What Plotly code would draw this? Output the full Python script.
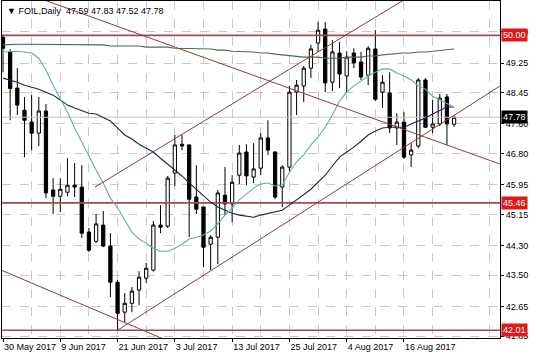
import datetime as dt
import plotly.graph_objects as go

# ---------------- data ----------------
dates = ["2017-05-30", "2017-05-31", "2017-06-01", "2017-06-02", "2017-06-05", "2017-06-06",
         "2017-06-07", "2017-06-08", "2017-06-09", "2017-06-12", "2017-06-13", "2017-06-14",
         "2017-06-15", "2017-06-16", "2017-06-19", "2017-06-20", "2017-06-21", "2017-06-22",
         "2017-06-23", "2017-06-26", "2017-06-27", "2017-06-28", "2017-06-29", "2017-06-30",
         "2017-07-03", "2017-07-04", "2017-07-05", "2017-07-06", "2017-07-07", "2017-07-10",
         "2017-07-11", "2017-07-12", "2017-07-13", "2017-07-14", "2017-07-17", "2017-07-18",
         "2017-07-19", "2017-07-20", "2017-07-21", "2017-07-24", "2017-07-25", "2017-07-26",
         "2017-07-27", "2017-07-28", "2017-07-31", "2017-08-01", "2017-08-02", "2017-08-03",
         "2017-08-04", "2017-08-07", "2017-08-08", "2017-08-09", "2017-08-10", "2017-08-11",
         "2017-08-14", "2017-08-15", "2017-08-16", "2017-08-17", "2017-08-18", "2017-08-21",
         "2017-08-22", "2017-08-23", "2017-08-24", "2017-08-25"]

opens = [49.95, 49.55, 48.57, 47.97, 47.65, 47.35, 47.95, 45.81, 45.64, 45.75, 45.94, 45.89,
         44.67, 44.42, 44.86, 44.29, 43.31, 42.50, 42.74, 43.10, 43.42, 43.64, 44.86, 44.83,
         46.27, 47.05, 47.03, 45.62, 45.35, 44.34, 44.53, 45.67, 45.43, 46.21, 46.84, 46.16,
         46.40, 47.22, 46.84, 45.89, 46.43, 48.46, 48.63, 49.11, 49.79, 50.17, 48.73, 49.52,
         48.90, 49.52, 49.28, 48.92, 49.63, 48.46, 48.44, 47.49, 47.65, 46.76, 47.00, 48.79,
         47.51, 47.60, 48.33, 47.59]
highs = [50.02, 49.62, 49.11, 48.33, 48.38, 48.33, 48.14, 46.13, 46.13, 46.67, 46.54, 46.48,
         44.78, 45.16, 45.24, 44.64, 43.37, 43.02, 43.18, 43.61, 43.83, 44.97, 45.40, 46.19,
         47.30, 47.30, 47.05, 46.48, 45.35, 44.59, 45.81, 46.43, 46.21, 47.03, 47.05, 47.08,
         47.35, 47.70, 46.86, 46.48, 48.63, 48.79, 49.17, 49.74, 50.36, 50.36, 49.87, 49.82,
         49.57, 49.65, 49.55, 49.71, 50.14, 48.92, 49.00, 47.89, 47.92, 47.08, 48.84, 48.84,
         48.25, 48.41, 48.41, 47.83]
lows = [49.00, 47.70, 47.84, 46.70, 46.89, 47.00, 45.59, 45.16, 45.21, 45.64, 45.62, 44.51,
        44.13, 44.37, 44.26, 42.91, 42.01, 42.23, 42.50, 42.69, 43.29, 43.60, 44.64, 44.78,
        45.92, 46.89, 44.53, 45.16, 43.72, 43.64, 43.80, 45.13, 44.94, 45.97, 45.94, 46.00,
        46.21, 46.76, 45.56, 45.35, 46.32, 47.84, 48.19, 48.84, 49.55, 48.46, 48.49, 48.57,
        48.46, 49.11, 48.79, 48.65, 48.22, 48.03, 47.35, 47.03, 46.65, 46.43, 46.94, 47.49,
        47.35, 47.54, 47.03, 47.52]
closes = [49.65, 48.56, 48.11, 47.70, 47.35, 47.95, 45.73, 45.64, 45.83, 45.94, 45.89, 44.64,
          44.18, 44.89, 44.29, 43.31, 42.47, 42.74, 43.07, 43.45, 43.69, 44.86, 44.80, 46.13,
          47.03, 47.00, 45.56, 45.29, 44.26, 44.53, 45.73, 45.43, 46.02, 46.81, 46.19, 46.38,
          47.22, 46.89, 45.62, 46.43, 48.46, 48.65, 49.11, 49.63, 50.14, 48.71, 49.55, 48.95,
          49.41, 49.25, 48.87, 49.65, 48.27, 48.73, 47.49, 47.65, 46.70, 46.89, 48.79, 47.51,
          47.60, 48.30, 47.60, 47.78]

ma_fast = [49.55, 49.57, 49.57, 49.55, 49.52, 49.38, 49.06, 48.65, 48.30, 47.92, 47.49, 47.11,
           46.70, 46.35, 46.00, 45.59, 45.32, 44.99, 44.67, 44.48, 44.37, 44.23, 44.15, 44.15,
           44.23, 44.34, 44.48, 44.53, 44.59, 44.70, 44.89, 45.13, 45.32, 45.54, 45.70, 45.86,
           45.97, 46.00, 45.92, 45.94, 46.29, 46.57, 46.76, 47.03, 47.24, 47.51, 47.84, 48.22,
           48.46, 48.63, 48.76, 48.90, 49.00, 49.09, 49.09, 48.98, 48.90, 48.79, 48.63, 48.54,
           48.35, 48.25, 48.14, 48.06]
ma_mid = [48.84, 48.79, 48.73, 48.65, 48.60, 48.54, 48.46, 48.38, 48.25, 48.11, 48.03, 47.95,
          47.89, 47.87, 47.78, 47.68, 47.49, 47.30, 47.19, 47.05, 46.94, 46.84, 46.67, 46.51,
          46.35, 46.19, 46.00, 45.83, 45.64, 45.48, 45.35, 45.26, 45.18, 45.13, 45.10, 45.07,
          45.13, 45.18, 45.21, 45.26, 45.40, 45.54, 45.67, 45.83, 46.02, 46.21, 46.46, 46.70,
          46.84, 46.97, 47.13, 47.30, 47.41, 47.49, 47.51, 47.51, 47.51, 47.60, 47.68, 47.76,
          47.87, 47.97, 48.06, 48.06]
ma_slow = [49.74, 49.76, 49.76, 49.76, 49.76, 49.76, 49.76, 49.76, 49.76, 49.76, 49.76, 49.74,
           49.74, 49.74, 49.74, 49.71, 49.71, 49.71, 49.71, 49.71, 49.68, 49.68, 49.68, 49.68,
           49.65, 49.65, 49.65, 49.63, 49.63, 49.63, 49.60, 49.60, 49.57, 49.57, 49.55, 49.55,
           49.52, 49.52, 49.49, 49.47, 49.44, 49.44, 49.41, 49.41, 49.41, 49.38, 49.38, 49.38,
           49.41, 49.41, 49.41, 49.44, 49.44, 49.47, 49.49, 49.49, 49.52, 49.52, 49.55, 49.55,
           49.57, 49.57, 49.60, 49.63]

levels = [50.00, 45.46, 42.01]
level_labels = ["50.00", "45.46", "42.01"]

# trend lines: (bar index, price) anchor pairs
trend_a_x = [0.0, 70.0]
trend_a_y = [51.36, 46.47]
trend_b_x = [-1.0, 25.0]
trend_b_y = [43.70, 41.56]
trend_c_x = [16.0, 70.0]
trend_c_y = [42.01, 48.70]
trend_d_x = [12.85, 60.0]
trend_d_y = [45.89, 51.43]

price_ticks = [41.85, 42.65, 43.50, 44.30, 45.15, 45.95, 46.80, 47.60, 48.45, 49.25, 50.10]
bid_price = 47.78
title_text = "\u25BC FOIL,Daily  47.59 47.83 47.52 47.78"

# ---------------- figure ----------------
idx = list(range(len(dates)))
FONT = "Liberation Sans, Arial, sans-serif"
TREND = "#8e3b3b"
LEVEL = "#a9484c"

fig = go.Figure()

# bid line
fig.add_trace(go.Scatter(x=[-1, 71], y=[bid_price, bid_price], mode="lines",
                         line=dict(color="#c4c4c4", width=1), hoverinfo="skip"))

# horizontal levels
for lv in levels:
    fig.add_trace(go.Scatter(x=[-1, 71], y=[lv, lv], mode="lines",
                             line=dict(color=LEVEL, width=1.6), hoverinfo="skip"))

fig.add_trace(go.Candlestick(
    x=idx, open=opens, high=highs, low=lows, close=closes,
    increasing=dict(fillcolor="#ffffff", line=dict(color="#000000", width=1)),
    decreasing=dict(fillcolor="#000000", line=dict(color="#000000", width=1)),
    whiskerwidth=0))

fig.add_trace(go.Scatter(x=idx, y=ma_slow, mode="lines", line=dict(color="#4d6b50", width=1.1)))
fig.add_trace(go.Scatter(x=idx, y=ma_mid, mode="lines", line=dict(color="#1c2258", width=1.1)))
fig.add_trace(go.Scatter(x=idx, y=ma_fast, mode="lines", line=dict(color="#6aaca6", width=1.1)))

for tx, ty in [(trend_a_x, trend_a_y), (trend_b_x, trend_b_y),
               (trend_c_x, trend_c_y), (trend_d_x, trend_d_y)]:
    fig.add_trace(go.Scatter(x=tx, y=ty, mode="lines",
                             line=dict(color=TREND, width=1), hoverinfo="skip"))

major = list(range(0, len(dates), 8))
minor = [i for i in range(4, 72, 8)]


def fmt(d):
    t = dt.date.fromisoformat(d)
    return f"{t.day} {t.strftime('%b %Y')}"


fig.update_layout(
    width=536, height=357,
    margin=dict(l=2, r=36, t=1, b=19),
    paper_bgcolor="white", plot_bgcolor="white",
    showlegend=False,
    boxgap=0.35,
    font=dict(family=FONT, size=9, color="#000000"),
    xaxis=dict(
        range=[-0.14, 69.41], rangeslider=dict(visible=False),
        tickmode="array", tickvals=major, ticktext=[fmt(dates[i]) for i in major],
        ticklabelposition="outside right", tickangle=0, automargin=False,
        ticks="outside", ticklen=3, tickcolor="#000000",
        showgrid=True, gridcolor="#c8c8c8", griddash="dash", gridwidth=1,
        minor=dict(tickvals=minor, showgrid=True, gridcolor="#c8c8c8", griddash="dash", ticklen=0),
        showline=True, linecolor="#000000", linewidth=1, mirror=True,
        zeroline=False, tickfont=dict(size=9),
    ),
    yaxis=dict(
        range=[41.80, 50.93], side="right", automargin=False,
        tickmode="array", tickvals=price_ticks, ticktext=[f"{v:.2f}" for v in price_ticks],
        ticks="outside", ticklen=3, tickcolor="#000000",
        showgrid=True, gridcolor="#c8c8c8", griddash="dash", gridwidth=1,
        showline=True, linecolor="#000000", linewidth=1, mirror=True,
        zeroline=False, tickfont=dict(size=9),
    ),
)

for lv, lab in zip(levels, level_labels):
    fig.add_annotation(x=1, xref="paper", y=lv, yref="y", text=lab, showarrow=False,
                       xanchor="left", xshift=1, bgcolor="#e01818", borderpad=1,
                       font=dict(color="#ffffff", size=9, family=FONT))
fig.add_annotation(x=1, xref="paper", y=bid_price, yref="y", text=f"{bid_price:.2f}", showarrow=False,
                   xanchor="left", xshift=1, bgcolor="#000000", borderpad=1,
                   font=dict(color="#ffffff", size=9, family=FONT))
fig.add_annotation(x=0, xref="paper", y=1, yref="paper", text=title_text, showarrow=False,
                   xanchor="left", yanchor="top", xshift=3, yshift=-3,
                   font=dict(color="#000000", size=9, family=FONT))

fig.write_html("out.html")
